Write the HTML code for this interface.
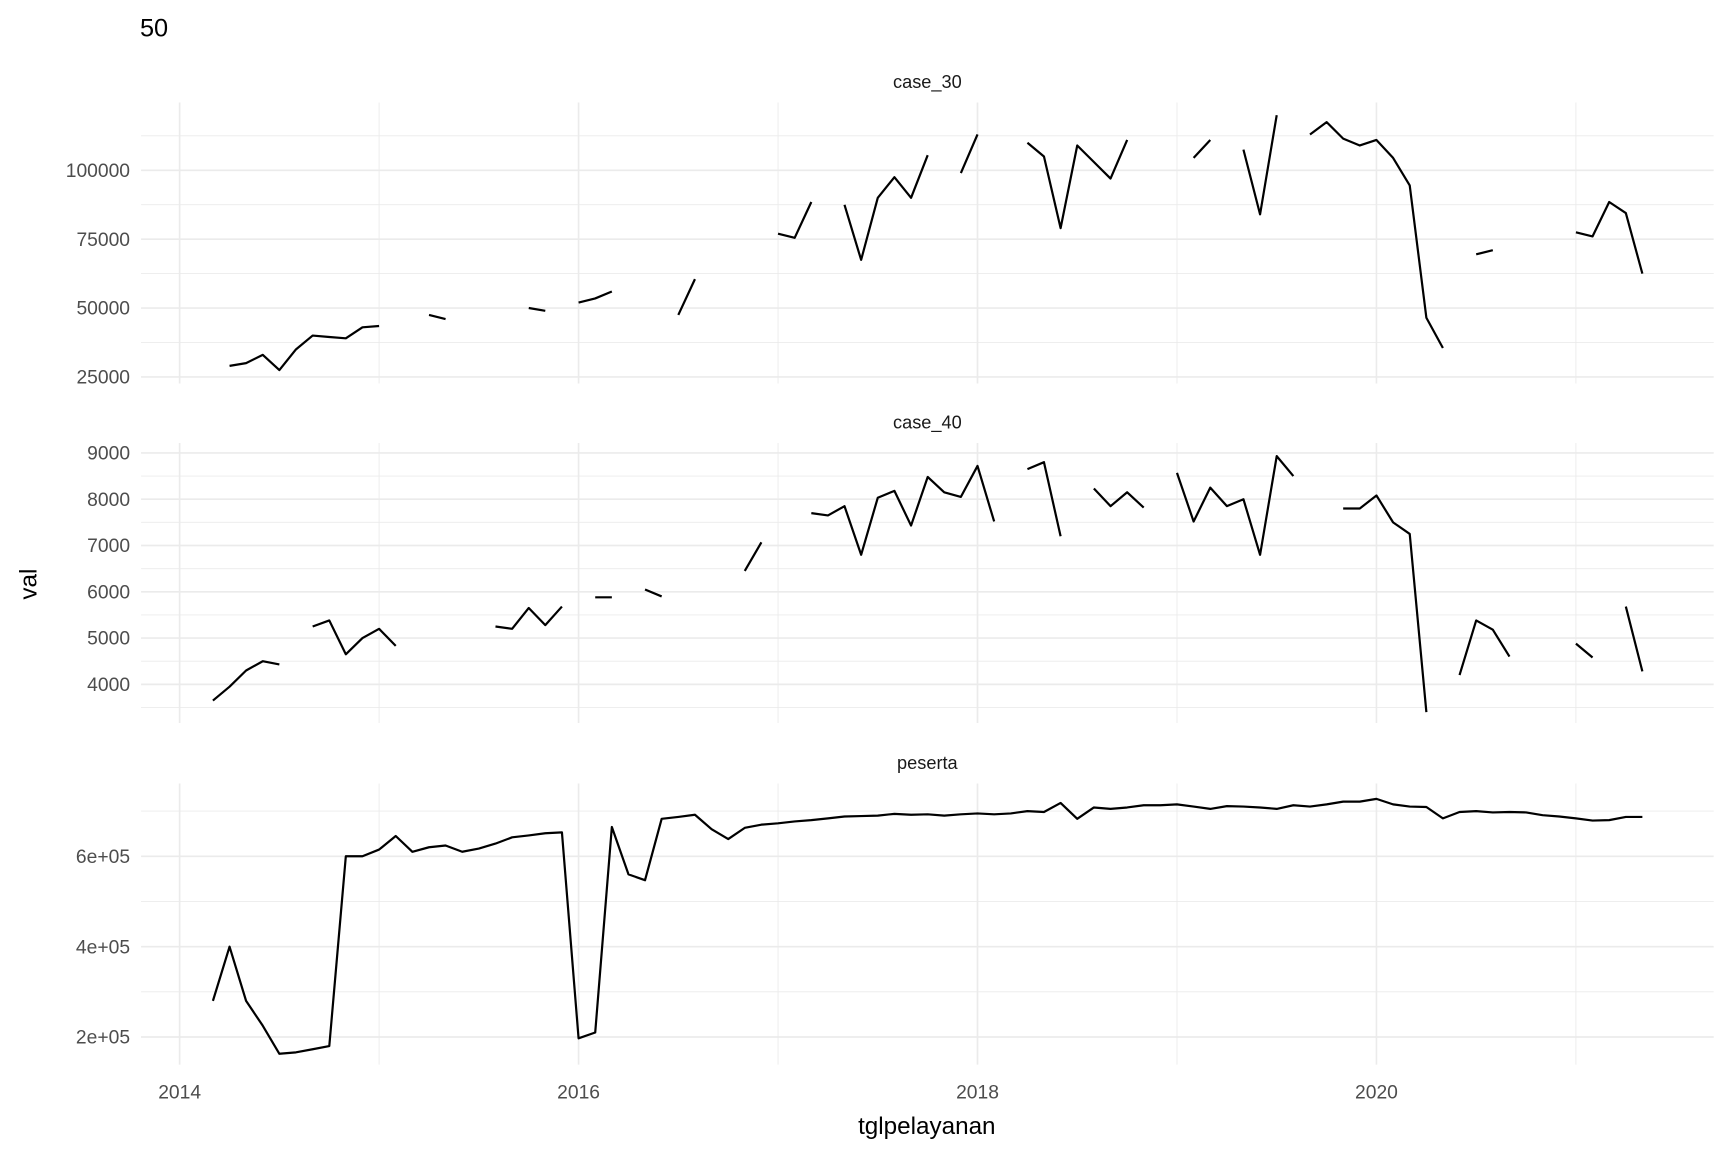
<!DOCTYPE html>
<html><head><meta charset="utf-8"><style>
html,body{margin:0;padding:0;background:#fff;}
svg{display:block;font-family:"Liberation Sans",sans-serif;}
</style></head><body>
<svg id="chart" width="1728" height="1152" viewBox="0 0 1568 1045.33" xmlns="http://www.w3.org/2000/svg">
<text x="127" y="33" font-size="23" fill="#000">50</text>
<text x="841" y="1029" font-size="22" fill="#000" text-anchor="middle">tglpelayanan</text>
<text transform="translate(33,530) rotate(-90)" font-size="22" fill="#000" text-anchor="middle">val</text>
<g id="panels"></g>
</svg>
<script>
const N=null;
const xYears=[2014,2015,2016,2017,2018,2019,2020,2021];
const xTickLabels=["2014","2016","2018","2020"];
const case30=[N,N,N,29000,30000,33000,27500,35000,40000,39500,39000,43000,43500,N,N,47500,46000,N,N,N,N,50000,49000,N,52000,53500,56000,N,N,N,47500,60500,N,N,N,N,77000,75500,88500,N,87500,67500,90000,97500,90000,105500,N,99000,113000,N,N,110000,105000,79000,109000,103000,97000,111000,N,N,N,104500,111000,N,107500,84000,120000,N,113000,117500,111500,109000,111000,104500,94500,46500,35500,N,69500,71000,N,N,N,N,77500,76000,88500,84500,62500];
const case40=[N,N,3650,3950,4300,4500,4430,N,5250,5380,4650,5000,5200,4830,N,N,N,N,N,5250,5200,5650,5280,5680,N,5880,5880,N,6050,5900,N,N,N,N,6450,7070,N,N,7700,7650,7850,6800,8030,8180,7430,8480,8150,8050,8720,7520,N,8650,8800,7200,N,8230,7850,8150,7820,N,8570,7520,8250,7850,8000,6800,8930,8500,N,N,7800,7800,8080,7500,7250,3400,N,4200,5380,5180,4600,N,N,N,4880,4580,N,5680,4280];
const peserta=[N,N,280000,400000,280000,225000,163000,166000,173000,180000,600000,600000,615000,645000,610000,620000,624000,610000,617000,628000,642000,646000,651000,653000,197000,210000,665000,560000,547000,683000,687000,692000,660000,638000,663000,670000,673000,677000,680000,684000,688000,689000,690000,694000,692000,693000,690000,693000,695000,693000,695000,700000,698000,718000,683000,708000,705000,708000,713000,713000,715000,710000,705000,711000,710000,708000,705000,713000,710000,715000,721000,721000,727000,715000,710000,709000,684000,698000,700000,697000,698000,697000,691000,688000,684000,679000,680000,687000,687000];
const case30Ticks=[25000,50000,75000,100000];
const case40Ticks=[4000,5000,6000,7000,8000,9000];
const pesertaTicks=[200000,400000,600000];
const pesertaTickLabels=["2e+05","4e+05","6e+05"];

const NS="http://www.w3.org/2000/svg";
const X0=128,X1=1555;
function xScale(yr){return 163+(yr-2014)*181;}
function monthX(i){return xScale(2014+i/12);}
const panels=[
 {name:"case_30",vals:case30,ticks:case30Ticks,labels:case30Ticks.map(String),top:93,bot:348,dmin:22600,dmax:124600},
 {name:"case_40",vals:case40,ticks:case40Ticks,labels:case40Ticks.map(String),top:402,bot:656,dmin:3167,dmax:9214},
 {name:"peserta",vals:peserta,ticks:pesertaTicks,labels:pesertaTickLabels,top:711,bot:966,dmin:139000,dmax:761000}
];
function mk(tag,attrs,parent){const e=document.createElementNS(NS,tag);for(const k in attrs)e.setAttribute(k,attrs[k]);parent.appendChild(e);return e;}
const root=document.getElementById('panels');
panels.forEach((p,pi)=>{
 const g=mk('g',{},root);
 
 
 const y=v=>p.bot-(v-p.dmin)/(p.dmax-p.dmin)*(p.bot-p.top);
 const step=p.ticks[1]-p.ticks[0];
 for(let v=p.ticks[0]-step/2;v<=p.dmax;v+=step){if(v<p.dmin)continue;const l=mk('line',{x1:X0,x2:X1,y1:y(v),y2:y(v),stroke:'#ebebeb','stroke-width':0.8},g);}
 xYears.forEach((yr,k)=>{const major=k%2===0;const l=mk('line',{x1:xScale(yr),x2:xScale(yr),y1:p.top,y2:p.bot,stroke:'#ebebeb','stroke-width':major?1.5:0.8},g);});
 p.ticks.forEach((v,k)=>{
  const l=mk('line',{x1:X0,x2:X1,y1:y(v),y2:y(v),stroke:'#ebebeb','stroke-width':1.5},g);
  
  const t=mk('text',{x:118,y:y(v)+6,'font-size':17.5,fill:'#4d4d4d','text-anchor':'end'},g);
  t.textContent=p.labels[k];
  
 });
 const st=mk('text',{x:(X0+X1)/2,y:p.top-13,'font-size':16.5,fill:'#1a1a1a','text-anchor':'middle'},g);
 st.textContent=p.name;
 
 let d='';let prev=false;
 p.vals.forEach((v,i)=>{if(v===null){prev=false;return;}d+=(prev?'L':'M')+monthX(i).toFixed(1)+','+y(v).toFixed(1);prev=true;});
 const path=mk('path',{d:d,fill:'none',stroke:'#000','stroke-width':2,'stroke-linejoin':'round'},g);
 
 
});
xTickLabels.forEach(s=>{
 const t=mk('text',{x:xScale(+s),y:997,'font-size':17.5,fill:'#4d4d4d','text-anchor':'middle'},root);
 t.textContent=s;
 
});
</script>
</body></html>
